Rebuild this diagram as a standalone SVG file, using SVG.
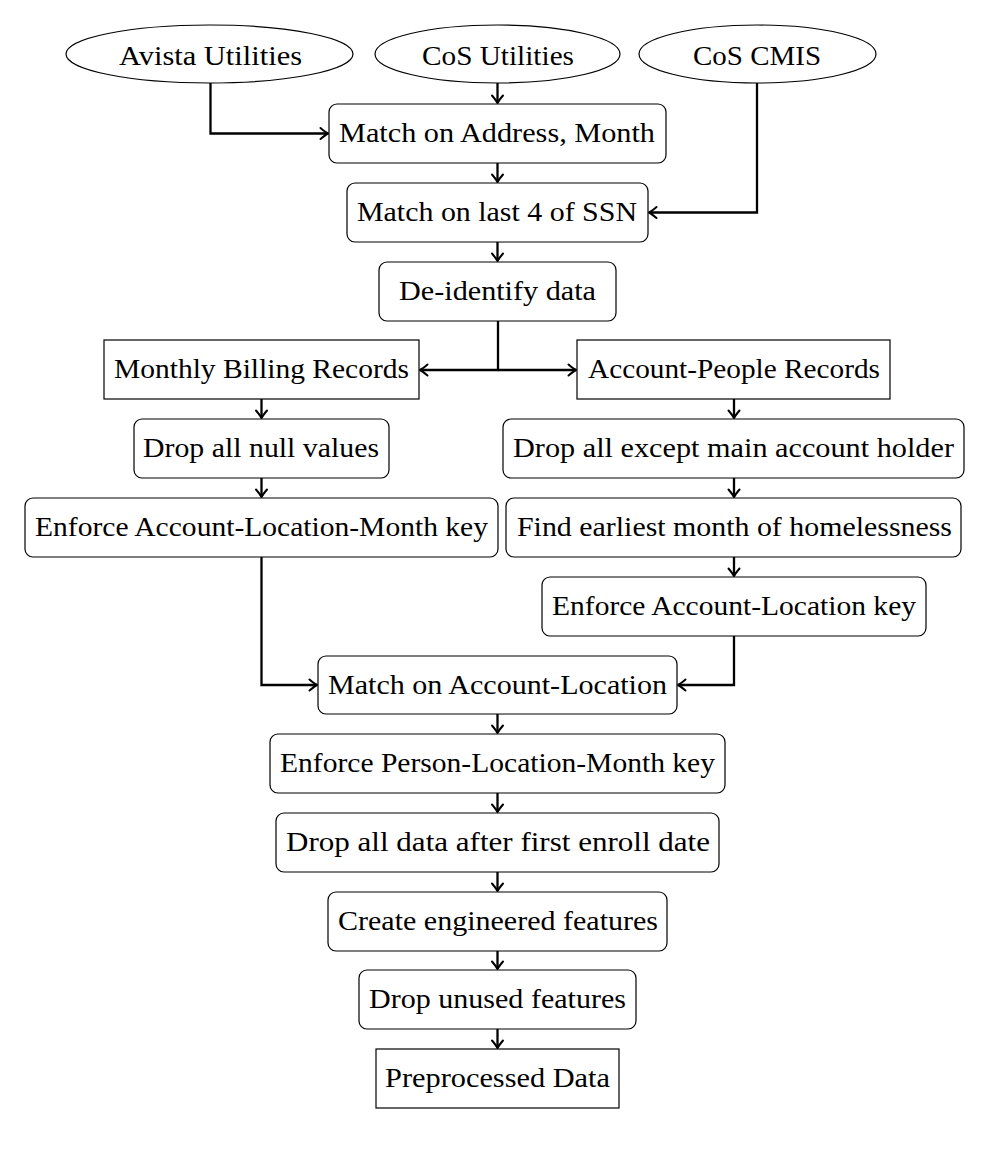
<svg xmlns="http://www.w3.org/2000/svg" width="986" height="1153" viewBox="0 0 986 1153">
<defs>
<style>
.n{fill:#fff;stroke:#000;stroke-width:1.2}
.t{font-family:"Liberation Serif","Times New Roman",serif;font-size:28px;fill:#000;text-anchor:middle}
.c{fill:none;stroke:#000;stroke-width:2.3;marker-end:url(#ah)}
</style>
<marker id="ah" markerUnits="userSpaceOnUse" markerWidth="16" markerHeight="16" viewBox="-9 -8 11 16" refX="0" refY="0" orient="auto">
<path d="M -7.5 -5.5 Q -2.5 -1.3 0 0 Q -2.5 1.3 -7.5 5.5" fill="none" stroke="#000" stroke-width="2" stroke-linecap="round" stroke-linejoin="round"/>
</marker>
</defs>
<rect width="986" height="1153" fill="#fff"/>
<g id="connectors">
<path class="c" d="M 210.5 83 V 133.5 H 328"/>
<path class="c" d="M 497.5 83 V 103"/>
<path class="c" d="M 497.5 163 V 182"/>
<path class="c" d="M 757 83 V 212.5 H 649"/>
<path class="c" d="M 497.5 242 V 261"/>
<path class="c" d="M 498 321 V 370 H 420"/>
<path class="c" d="M 498 370 H 576"/>
<path class="c" d="M 261.5 399 V 418"/>
<path class="c" d="M 261.5 478 V 497"/>
<path class="c" d="M 734 399 V 418"/>
<path class="c" d="M 734 478 V 497"/>
<path class="c" d="M 734 557 V 576"/>
<path class="c" d="M 261.5 557 V 685 H 317"/>
<path class="c" d="M 734 636 V 685 H 678"/>
<path class="c" d="M 497.5 714 V 733"/>
<path class="c" d="M 497.5 793 V 812"/>
<path class="c" d="M 497.5 872 V 891"/>
<path class="c" d="M 497.5 951 V 969"/>
<path class="c" d="M 497.5 1029 V 1048"/>
</g>
<g id="avista"><ellipse class="n" cx="209.5" cy="54" rx="143.5" ry="29"/><text class="t" x="210.5" y="65" textLength="183" lengthAdjust="spacingAndGlyphs">Avista Utilities</text></g>
<g id="cosutil"><ellipse class="n" cx="497.5" cy="54" rx="122.5" ry="29"/><text class="t" x="498" y="65" textLength="152" lengthAdjust="spacingAndGlyphs">CoS Utilities</text></g>
<g id="coscmis"><ellipse class="n" cx="757.5" cy="54" rx="118.5" ry="29"/><text class="t" x="757" y="65" textLength="128" lengthAdjust="spacingAndGlyphs">CoS CMIS</text></g>
<g id="matchaddr"><rect class="n" x="329" y="104" width="337" height="59" rx="8"/><text class="t" x="497" y="142" textLength="316" lengthAdjust="spacingAndGlyphs">Match on Address, Month</text></g>
<g id="matchssn"><rect class="n" x="347" y="183" width="301" height="59" rx="8"/><text class="t" x="497" y="221" textLength="280" lengthAdjust="spacingAndGlyphs">Match on last 4 of SSN</text></g>
<g id="deid"><rect class="n" x="379" y="262" width="237" height="59" rx="8"/><text class="t" x="497.5" y="300" textLength="197" lengthAdjust="spacingAndGlyphs">De-identify data</text></g>
<g id="mbr"><rect class="n" x="104" y="340" width="315" height="59"/><text class="t" x="261.5" y="378" textLength="295" lengthAdjust="spacingAndGlyphs">Monthly Billing Records</text></g>
<g id="apr"><rect class="n" x="577" y="340" width="313" height="59"/><text class="t" x="734" y="378" textLength="292" lengthAdjust="spacingAndGlyphs">Account-People Records</text></g>
<g id="dropnull"><rect class="n" x="134" y="419" width="255" height="59" rx="8"/><text class="t" x="261" y="457" textLength="236" lengthAdjust="spacingAndGlyphs">Drop all null values</text></g>
<g id="alm"><rect class="n" x="25" y="498" width="473" height="59" rx="8"/><text class="t" x="261.5" y="536" textLength="453" lengthAdjust="spacingAndGlyphs">Enforce Account-Location-Month key</text></g>
<g id="dropexcept"><rect class="n" x="503" y="419" width="461" height="59" rx="8"/><text class="t" x="733.5" y="457" textLength="441" lengthAdjust="spacingAndGlyphs">Drop all except main account holder</text></g>
<g id="findearliest"><rect class="n" x="506" y="498" width="455" height="59" rx="8"/><text class="t" x="734.5" y="536" textLength="435" lengthAdjust="spacingAndGlyphs">Find earliest month of homelessness</text></g>
<g id="al"><rect class="n" x="542" y="577" width="384" height="59" rx="8"/><text class="t" x="734" y="615" textLength="364" lengthAdjust="spacingAndGlyphs">Enforce Account-Location key</text></g>
<g id="matchal"><rect class="n" x="318" y="656" width="359" height="58" rx="8"/><text class="t" x="497.5" y="694" textLength="339" lengthAdjust="spacingAndGlyphs">Match on Account-Location</text></g>
<g id="plm"><rect class="n" x="270" y="734" width="455" height="59" rx="8"/><text class="t" x="497.5" y="772" textLength="435" lengthAdjust="spacingAndGlyphs">Enforce Person-Location-Month key</text></g>
<g id="dropafter"><rect class="n" x="276" y="813" width="443" height="59" rx="8"/><text class="t" x="498" y="851" textLength="424" lengthAdjust="spacingAndGlyphs">Drop all data after first enroll date</text></g>
<g id="create"><rect class="n" x="328" y="892" width="339" height="59" rx="8"/><text class="t" x="498" y="930" textLength="320" lengthAdjust="spacingAndGlyphs">Create engineered features</text></g>
<g id="dropunused"><rect class="n" x="359" y="970" width="277" height="59" rx="8"/><text class="t" x="497.5" y="1008" textLength="257" lengthAdjust="spacingAndGlyphs">Drop unused features</text></g>
<g id="preprocessed"><rect class="n" x="376" y="1049" width="243" height="59"/><text class="t" x="497.5" y="1087" textLength="225" lengthAdjust="spacingAndGlyphs">Preprocessed Data</text></g>
</svg>
